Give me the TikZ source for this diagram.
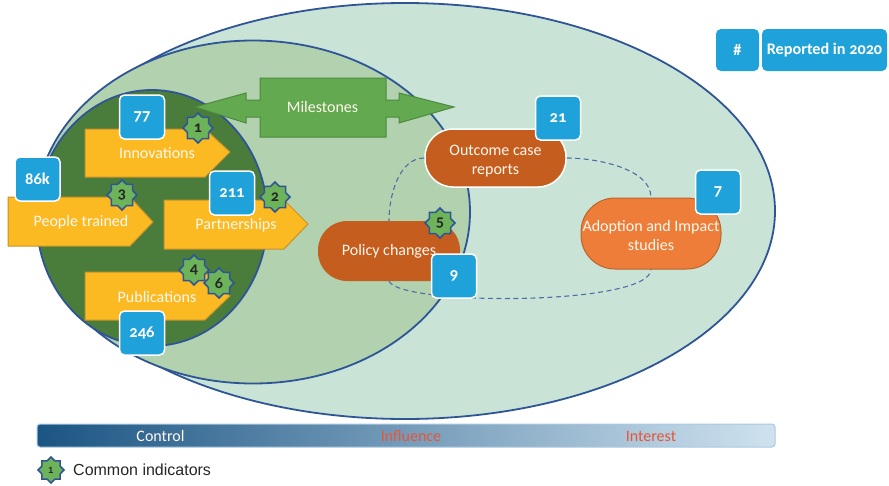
\documentclass[tikz,border=0pt]{standalone}
\usepackage{fontspec}
\setmainfont{Carlito}
\newfontfamily\numfont[Numbers=OldStyle]{Carlito}
\newfontfamily\legendfont{Liberation Sans}
\usetikzlibrary{shapes.geometric}
\definecolor{outerfill}{HTML}{C9E4D6}
\definecolor{midfill}{HTML}{B1D1AF}
\definecolor{darkfill}{HTML}{4A7C3C}
\definecolor{rimblue}{HTML}{2F5597}
\definecolor{amber}{HTML}{FBBA22}
\definecolor{amberedge}{HTML}{C8922A}
\definecolor{boxblue}{HTML}{1FA1DA}
\definecolor{milefill}{HTML}{63A950}
\definecolor{mileedge}{HTML}{4C8A3E}
\definecolor{rust}{HTML}{C55D1E}
\definecolor{carrot}{HTML}{ED7D38}
\definecolor{carrotedge}{HTML}{B9652E}
\definecolor{stargreen}{HTML}{6DB35A}
\definecolor{softwhite}{HTML}{FFF8EE}
\definecolor{redlabel}{HTML}{E4573A}
\definecolor{barleft}{HTML}{1B5583}
\definecolor{barmid}{HTML}{9DBBD8}
\definecolor{barright}{HTML}{CFE2EF}
\definecolor{baredge}{HTML}{A9C9E2}
\tikzset{
  zone/.style={ellipse,draw=rimblue,line width=1.8pt,inner sep=0pt},
  arrowshape/.style={fill=amber,draw=amberedge,line width=1pt},
  lbl/.style={text=softwhite,font=\fontsize{16}{19.500}\selectfont,align=center,inner sep=0pt},
  numbox/.style={rectangle,rounded corners=5pt,fill=boxblue,draw=white,line width=1.5pt,
    minimum width=45pt,minimum height=44pt,inner sep=0pt,text=white,font=\numfont\fontsize{16.500}{18}\selectfont\bfseries},
  keybox/.style={rectangle,rounded corners=5pt,fill=boxblue,inner sep=0pt,minimum height=42pt,
    text=white,font=\numfont\fontsize{16.200}{18}\selectfont\bfseries},
  indicator/.style={star,star points=8,star point ratio=1.3,fill=stargreen,draw=rimblue,line width=1.5pt,
    minimum size=30pt,inner sep=0pt,text=black!85,font=\numfont\fontsize{16}{16}\selectfont\bfseries},
  pill/.style={rectangle,inner sep=0pt,text=softwhite,align=center,
    font=\fontsize{16}{19.500}\selectfont},
  dashlink/.style={draw=rimblue!85!white,line width=1.1pt,dash pattern=on 5pt off 3.5pt},
  barlabel/.style={font=\fontsize{16}{18}\selectfont,inner sep=0pt}
}
\begin{document}
\begin{tikzpicture}[x=1pt,y=-1pt]
\useasboundingbox (0,0) rectangle (889,485);
% nested zones
\node[zone,fill=outerfill,minimum width=740pt,minimum height=416pt] (interest) at (405,211) {};
\node[zone,fill=midfill,minimum width=434pt,minimum height=343pt] (influence) at (253,212) {};
\node[zone,fill=darkfill,minimum width=231pt,minimum height=256pt] (control) at (152,218) {};
% pills and the dashed links between them
\node[pill,fill=rust,rounded corners=29pt,minimum width=142pt,minimum height=60pt] (policy) at (389,251) {\raisebox{-1pt}{Policy changes}};
\node[pill,fill=rust,draw=white,line width=1.5pt,rounded corners=28pt,minimum width=141pt,minimum height=58pt] (outcome) at (495.5,158) {\raisebox{-7.500pt}[0pt][0pt]{\begin{tabular}{@{}c@{}}Outcome case\\[-0.500pt]reports\end{tabular}}};
\node[pill,fill=carrot,draw=carrotedge,line width=1pt,rounded corners=34pt,minimum width=140pt,minimum height=71pt] (adoption) at (651,233.5) {\raisebox{-8pt}[0pt][0pt]{\begin{tabular}{@{}c@{}}Adoption and Impact\\[-0.500pt]studies\end{tabular}}};
\draw[dashlink] (outcome.west) to[out=180,in=90,looseness=0.9] (policy.north);
\draw[dashlink] (outcome.east) to[out=0,in=90,looseness=0.8] (adoption.north);
\draw[dashlink] (policy.south) .. controls (400,306) and (650,306) .. (adoption.south);
% milestones
\draw[fill=milefill,draw=mileedge,line width=1pt]
  (195,107) -- (246,93) -- (246,100) -- (260,100) -- (260,78) -- (386,78) -- (386,100)
  -- (399,100) -- (399,93) -- (454,107) -- (399,123) -- (399,117) -- (386,117) -- (386,137)
  -- (260,137) -- (260,117) -- (246,117) -- (246,123) -- cycle;
\node[lbl] (milestones) at (322.500,107.500) {Milestones};
% output arrows
\draw[arrowshape] (85,129) -- (205,129) -- (230,152) -- (205,177) -- (85,177) -- cycle;
\node[lbl] (innovations) at (157,153) {Innovations};
\draw[arrowshape] (8,197) -- (130,197) -- (153,222) -- (130,246) -- (8,246) -- cycle;
\node[lbl] (people) at (81,222) {People trained};
\draw[arrowshape] (164,200) -- (284,200) -- (308,224) -- (284,249) -- (164,249) -- cycle;
\node[lbl] (partnerships) at (236,225.500) {Partnerships};
\draw[arrowshape] (85,272) -- (205,272) -- (230,296) -- (205,320) -- (85,320) -- cycle;
\node[lbl] (publications) at (157,297) {Publications};
% counts
\node[numbox] (n77) at (142,117) {77};
\node[numbox] (n86) at (37.500,179) {86k};
\node[numbox] (n211) at (232,193) {211};
\node[numbox] (n246) at (142,333) {246};
\node[numbox] (n21) at (558,118) {21};
\node[numbox] (n7) at (718,192) {7};
\node[numbox] (n9) at (454,276) {9};
% indicators
\node[indicator] (s1) at (198,128) {1};
\node[indicator] (s2) at (275,197) {2};
\node[indicator] (s3) at (122,195) {3};
\node[indicator] (s4) at (194,270) {4};
\node[indicator] (s6) at (219,283) {6};
\node[indicator] (s5) at (440,223) {5};
% key
\node[keybox,minimum width=43pt] (keyhash) at (737.500,50) {\#};
\node[keybox,minimum width=125pt] (keytext) at (824.500,50) {Reported in 2020};
% gradient bar
\shade[left color=barleft,middle color=barmid,right color=barright,rounded corners=3pt] (37,424) rectangle (775,447);
\draw[baredge,line width=1pt,rounded corners=3pt] (37,424) rectangle (775,447);
\node[barlabel,text=softwhite] (lcontrol) at (160.500,436) {Control};
\node[barlabel,text=redlabel] (linfluence) at (411,436) {Influence};
\node[barlabel,text=redlabel] (linterest) at (651,436) {Interest};
% legend
\node[indicator,minimum size=26pt,font=\legendfont\fontsize{9}{10}\selectfont\bfseries] (legendstar) at (51,470) {1};
\node[anchor=west,inner sep=0pt,text=black!85,font=\legendfont\fontsize{16}{18}\selectfont] (legendtext) at (73,470) {Common indicators};
\end{tikzpicture}
\end{document}
